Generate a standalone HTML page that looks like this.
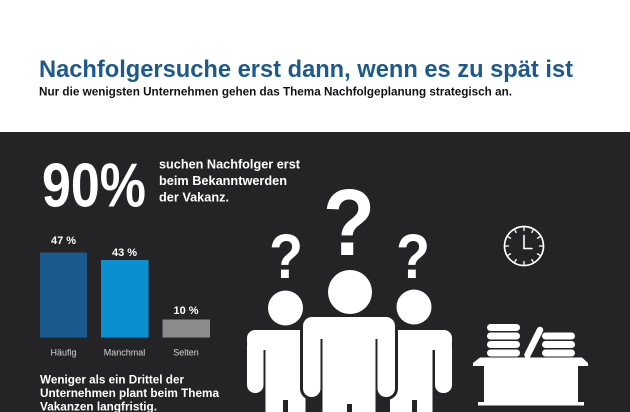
<!DOCTYPE html>
<html>
<head>
<meta charset="utf-8">
<style>
  html,body{margin:0;padding:0;background:#fff;}
  svg{display:block;}
  text{font-family:"Liberation Sans",Arial,sans-serif;}
</style>
</head>
<body>
<svg width="630" height="412" viewBox="0 0 630 412" xmlns="http://www.w3.org/2000/svg">
  <rect x="0" y="0" width="630" height="412" fill="#ffffff"/>
  <!-- Header -->
  <text x="39" y="77" font-size="24.5" font-weight="bold" fill="#1d5a8c" textLength="534" lengthAdjust="spacingAndGlyphs">Nachfolgersuche erst dann, wenn es zu spät ist</text>
  <text x="39" y="95.5" font-size="11.5" font-weight="bold" fill="#111" textLength="473" lengthAdjust="spacingAndGlyphs">Nur die wenigsten Unternehmen gehen das Thema Nachfolgeplanung strategisch an.</text>

  <!-- Dark panel -->
  <rect x="0" y="132" width="630" height="280" fill="#242426"/>

  <!-- 90% -->
  <text x="42" y="206.5" font-size="62" font-weight="bold" fill="#fff" textLength="104" lengthAdjust="spacingAndGlyphs">90%</text>
  <g font-size="13" font-weight="bold" fill="#fff">
    <text x="159" y="168.5" textLength="141" lengthAdjust="spacingAndGlyphs">suchen Nachfolger erst</text>
    <text x="159" y="185" textLength="128" lengthAdjust="spacingAndGlyphs">beim Bekanntwerden</text>
    <text x="159" y="201.5" textLength="70" lengthAdjust="spacingAndGlyphs">der Vakanz.</text>
  </g>

  <!-- Bars -->
  <rect x="40" y="252.5" width="47" height="85" fill="#1b5a8f"/>
  <rect x="101" y="260" width="47.5" height="77.5" fill="#0a8fd0"/>
  <rect x="162.5" y="319.5" width="47.5" height="18" fill="#8b8b8b"/>
  <g font-size="11" font-weight="bold" fill="#fff" text-anchor="middle">
    <text x="63.5" y="244">47 %</text>
    <text x="124.5" y="256">43 %</text>
    <text x="186" y="314">10 %</text>
  </g>
  <g font-size="9" fill="#d6d6d6" text-anchor="middle">
    <text x="63.5" y="355.5">Häufig</text>
    <text x="124.5" y="355.5">Manchmal</text>
    <text x="186" y="355.5">Selten</text>
  </g>

  <!-- Bottom text -->
  <g font-size="12.3" font-weight="bold" fill="#fff">
    <text x="40" y="383.5" textLength="144" lengthAdjust="spacingAndGlyphs">Weniger als ein Drittel der</text>
    <text x="40" y="397" textLength="179" lengthAdjust="spacingAndGlyphs">Unternehmen plant beim Thema</text>
    <text x="40" y="410.5" textLength="117" lengthAdjust="spacingAndGlyphs">Vakanzen langfristig.</text>
  </g>

  <!-- Question marks -->
  <g font-weight="bold" fill="#fff" text-anchor="middle">
    <text x="0" y="0" font-size="95" transform="translate(349,255) scale(0.9,1)">?</text>
    <text x="0" y="0" font-size="63" transform="translate(286,278) scale(0.88,1)">?</text>
    <text x="0" y="0" font-size="63" transform="translate(413,278) scale(0.88,1)">?</text>
  </g>

  <!-- Left person -->
  <g fill="#fff">
    <circle cx="285.5" cy="308" r="17.5"/>
    <rect x="247" y="330" width="77" height="20" rx="8"/>
    <rect x="247" y="338" width="16.5" height="55" rx="8"/>
    <rect x="265.5" y="338" width="40" height="74"/>
  </g>
  <rect x="283" y="400" width="5" height="12" fill="#242426"/>

  <!-- Right person -->
  <g fill="#fff">
    <circle cx="414" cy="307" r="17.5"/>
    <rect x="376" y="330" width="76" height="20" rx="8"/>
    <rect x="435" y="338" width="17" height="55" rx="8"/>
    <rect x="390" y="338" width="42.5" height="74"/>
  </g>
  <rect x="412" y="400" width="5" height="12" fill="#242426"/>

  <!-- Center person outline (separation) -->
  <g fill="#242426" stroke="#242426" stroke-width="6">
    <circle cx="350" cy="292" r="22"/>
    <rect x="303" y="317" width="92" height="22" rx="9"/>
    <rect x="303" y="325" width="17.5" height="72" rx="8.5"/>
    <rect x="377.5" y="325" width="17.5" height="72" rx="8.5"/>
    <rect x="322.5" y="325" width="53" height="90"/>
  </g>
  <!-- Center person -->
  <g fill="#fff">
    <circle cx="350" cy="292" r="22"/>
    <rect x="303" y="317" width="92" height="22" rx="9"/>
    <rect x="303" y="325" width="17.5" height="72" rx="8.5"/>
    <rect x="377.5" y="325" width="17.5" height="72" rx="8.5"/>
    <rect x="322.5" y="325" width="53" height="90"/>
  </g>
  <rect x="347" y="404" width="5" height="8" fill="#242426"/>

  <!-- Clock -->
  <g stroke="#fff" fill="none" stroke-linecap="round">
    <circle cx="524" cy="246" r="19.5" stroke-width="1.7"/>
    <g stroke-width="1.3">
      <line x1="524" y1="227.5" x2="524" y2="230.5"/>
      <line x1="524" y1="261.5" x2="524" y2="264.5"/>
      <line x1="505.5" y1="246" x2="508.5" y2="246"/>
      <line x1="539.5" y1="246" x2="542.5" y2="246"/>
      <line x1="533.2" y1="230.1" x2="531.8" y2="232.5"/>
      <line x1="539.9" y1="236.8" x2="537.5" y2="238.2"/>
      <line x1="539.9" y1="255.2" x2="537.5" y2="253.8"/>
      <line x1="533.2" y1="261.9" x2="531.8" y2="259.5"/>
      <line x1="514.8" y1="261.9" x2="516.2" y2="259.5"/>
      <line x1="508.1" y1="255.2" x2="510.5" y2="253.8"/>
      <line x1="508.1" y1="236.8" x2="510.5" y2="238.2"/>
      <line x1="514.8" y1="230.1" x2="516.2" y2="232.5"/>
    </g>
    <line x1="524" y1="235.5" x2="524" y2="248.5" stroke-width="1.6"/>
    <line x1="524" y1="248.5" x2="532" y2="248.5" stroke-width="1.6"/>
  </g>

  <!-- Coins and desk -->
  <g fill="#fff">
    <rect x="487" y="324" width="33" height="7" rx="3.5"/>
    <rect x="487" y="332.5" width="33" height="7" rx="3.5"/>
    <rect x="487" y="341" width="33" height="7" rx="3.5"/>
    <rect x="487" y="349.5" width="33" height="7" rx="3.5"/>
    <rect x="542" y="332.5" width="33" height="7" rx="3.5"/>
    <rect x="542" y="341" width="33" height="7" rx="3.5"/>
    <rect x="542" y="349.5" width="33" height="7" rx="3.5"/>
    <polygon points="480,357.5 582,357.5 588,363 588,366 473,366 473,363"/>
    <rect x="484" y="365" width="94" height="38"/>
    <rect x="478" y="402" width="106" height="3.5"/>
  </g>
  <line x1="540" y1="330" x2="527.5" y2="355" stroke="#fff" stroke-width="6.5" stroke-linecap="round"/>
</svg>
</body>
</html>
